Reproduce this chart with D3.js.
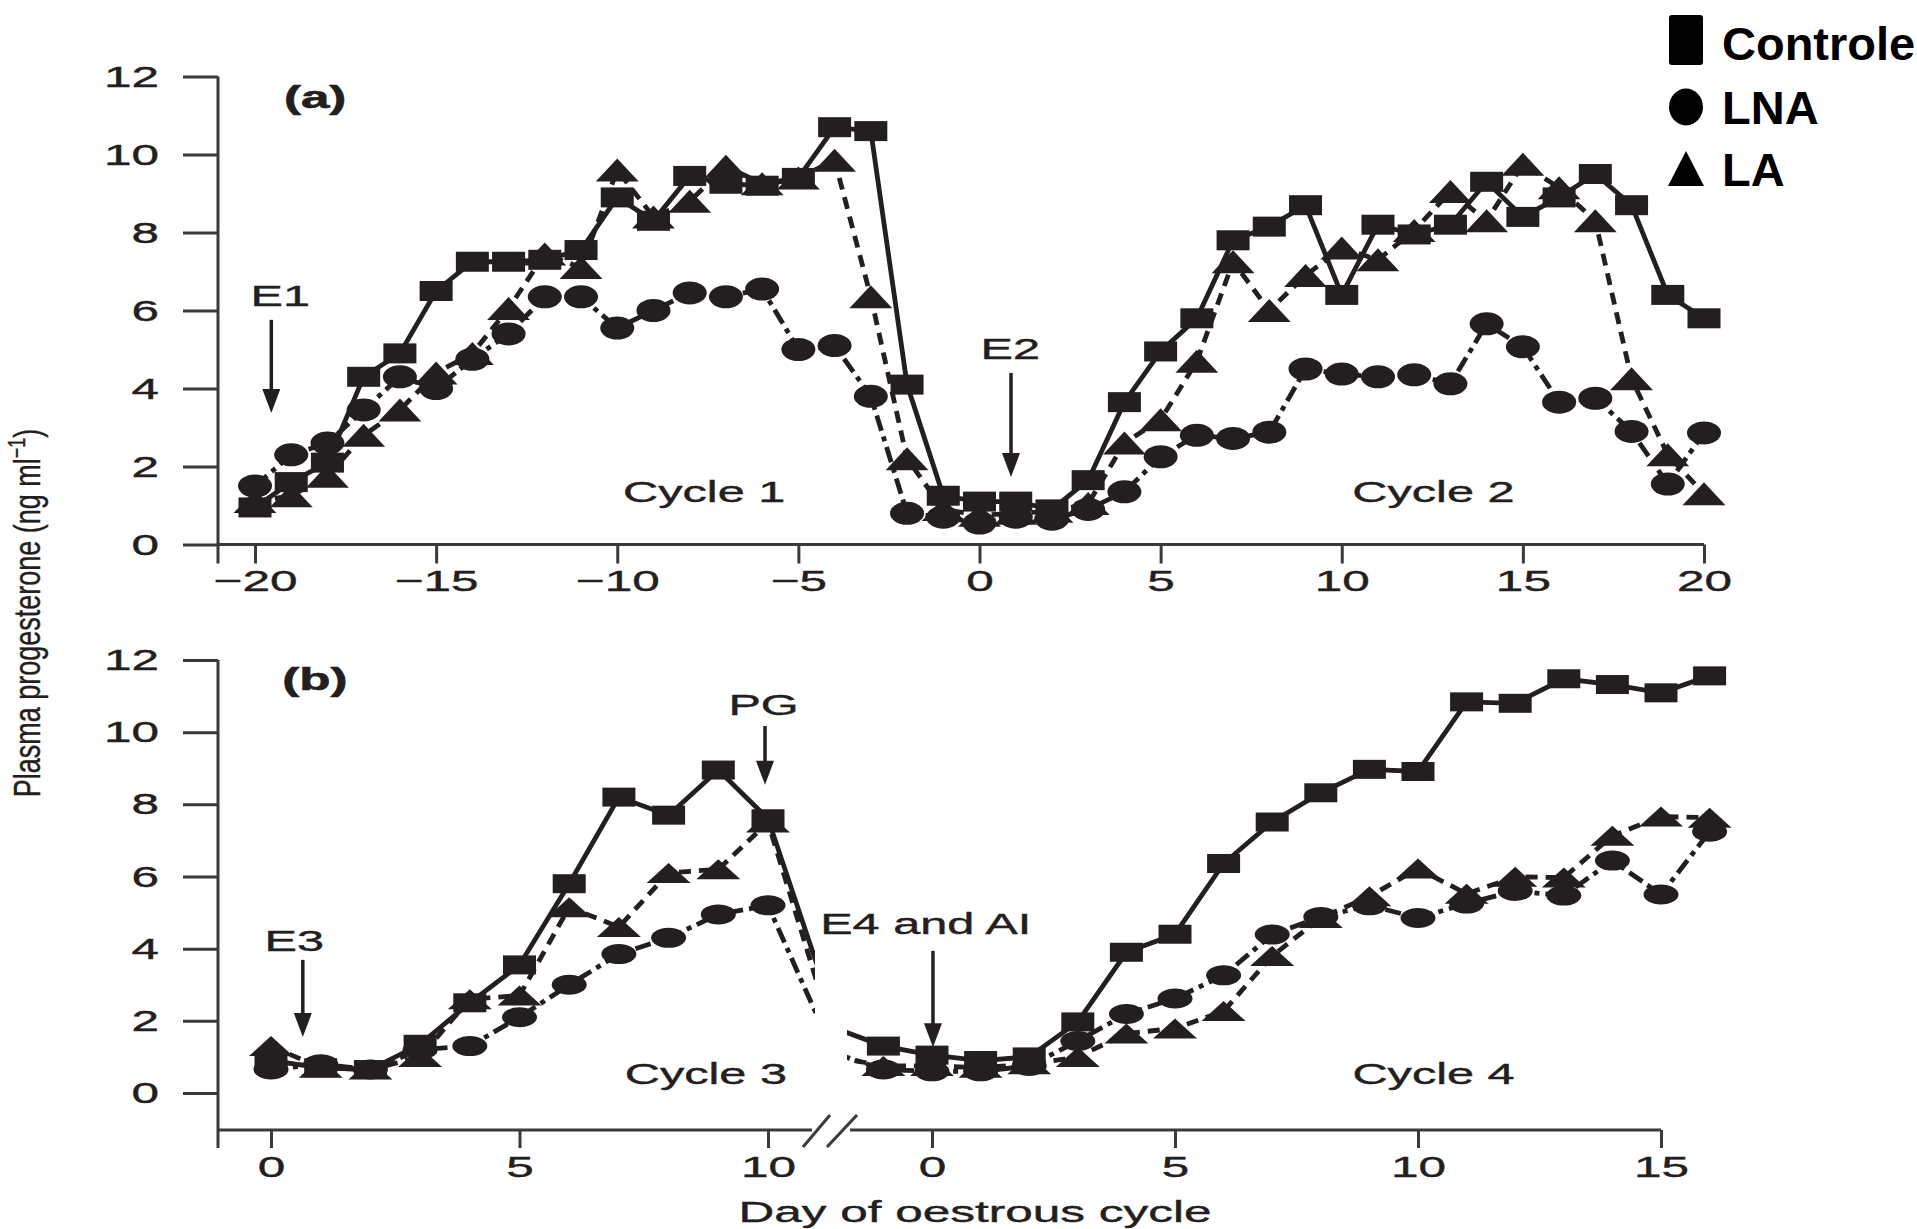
<!DOCTYPE html>
<html>
<head>
<meta charset="UTF-8">
<title>Plasma progesterone</title>
<script src="https://cdn.jsdelivr.net/npm/d3@7"></script>
<style>
  body { margin: 0; background: #fff; }
  text { font-family: "Liberation Sans", Arial, sans-serif; fill: #231f20; }
</style>
</head>
<body>
<script>
// ---- data ----
var seriesNames = ["Controle", "LNA", "LA"];

// panel (a): cycles 1 and 2, days -20..20
var daysA = [-20,-19,-18,-17,-16,-15,-14,-13,-12,-11,-10,-9,-8,-7,-6,-5,-4,-3,-2,-1,0,
             1,2,3,4,5,6,7,8,9,10,11,12,13,14,15,16,17,18,19,20];
var ctrlA = [0.95,1.6,2.1,4.3,4.9,6.5,7.25,7.25,7.3,7.55,8.9,8.3,9.45,9.25,9.2,9.4,10.7,10.6,4.1,1.25,1.1,
             1.1,0.9,1.65,3.65,4.95,5.8,7.8,8.15,8.7,6.4,8.2,7.95,8.2,9.3,8.4,8.9,9.5,8.7,6.4,5.8];
var lnaA  = [1.5,2.3,2.6,3.45,4.3,4.0,4.75,5.4,6.35,6.35,5.55,6.0,6.45,6.35,6.55,5.0,5.1,3.8,0.8,0.7,0.55,
             0.7,0.65,0.9,1.35,2.25,2.8,2.72,2.88,4.5,4.37,4.3,4.35,4.12,5.66,5.07,3.65,3.75,2.9,1.55,2.86];
var laA   = [1.1,1.25,1.75,2.8,3.45,4.4,4.9,6.05,7.45,7.1,9.6,8.4,8.8,9.7,9.25,9.4,9.85,6.35,2.2,0.9,0.75,
             0.8,0.85,1.05,2.6,3.2,4.7,7.25,6.0,6.9,7.6,7.3,8.05,9.05,8.3,9.75,9.15,8.3,4.25,2.3,1.3];

// panel (b), cycle 3: days 0..11 (day 11 runs into the axis break)
var days3 = [0,1,2,3,4,5,6,7,8,9,10,11];
var ctrl3 = [0.9,0.7,0.65,1.35,2.5,3.55,5.8,8.2,7.7,8.95,7.6,3.5];
var lna3  = [0.65,0.8,0.65,1.2,1.3,2.1,3.0,3.85,4.3,4.95,5.2,2.1];
var la3   = [1.3,0.7,0.65,1.0,2.6,2.7,5.15,4.6,6.1,6.2,7.5,3.0];

// panel (b), cycle 4: days -2..16 (day -2 hidden behind the break)
var days4 = [-2,-1,0,1,2,3,4,5,6,7,8,9,10,11,12,13,14,15,16];
var ctrl4 = [1.8,1.3,1.05,0.9,1.0,1.97,3.9,4.4,6.36,7.51,8.32,8.97,8.91,10.84,10.8,11.48,11.32,11.09,11.56];
var lna4  = [1.1,0.65,0.6,0.6,0.75,1.44,2.19,2.62,3.26,4.39,4.88,5.2,4.85,5.25,5.6,5.47,6.44,5.5,7.24];
var la4   = [1.0,0.75,0.75,0.7,0.8,1.0,1.65,1.79,2.27,3.8,4.85,5.45,6.22,5.52,5.99,5.97,7.13,7.66,7.63];

var yTicks = [0,2,4,6,8,10,12];
var xTicksA = [-20,-15,-10,-5,0,5,10,15,20];
var xTicks3 = [0,5,10];
var xTicks4 = [0,5,10,15];

// ---- setup ----
var W = 1917, H = 1229;
var SX = 1.65;      // the figure is stretched horizontally
var ink = "#231f20", axisInk = "#3a3a3a";

var svg = d3.select("body").append("svg")
  .attr("width", W).attr("height", H)
  .style("background", "#fff");

var xA = d3.scaleLinear().domain([-20, 20]).range([255, 1704]);
var yA = d3.scaleLinear().domain([0, 12]).range([544.5, 76.5]);
var x3 = d3.scaleLinear().domain([0, 10]).range([271, 768]);
var x4 = d3.scaleLinear().domain([0, 15]).range([932, 1661]);
var yB = d3.scaleLinear().domain([0, 12]).range([1093, 660]);

var lineStyle = {
  "Controle": null,
  "LNA": "16,6,5,6",
  "LA": "12,8"
};

var defs = svg.append("defs");
defs.append("clipPath").attr("id", "clip3")
  .append("rect").attr("x", 150).attr("y", 600).attr("width", 815 - 150).attr("height", 560);
defs.append("clipPath").attr("id", "clip4")
  .append("rect").attr("x", 847).attr("y", 600).attr("width", 1000).attr("height", 560);

function marker(g, type, cx, cy, w, h) {
  if (type == "Controle") {
    g.append("rect").attr("x", cx - w / 2).attr("y", cy - h / 2)
      .attr("width", w).attr("height", h).attr("fill", ink);
  } else if (type == "LNA") {
    g.append("ellipse").attr("cx", cx).attr("cy", cy)
      .attr("rx", w / 2).attr("ry", h / 2).attr("fill", ink);
  } else {
    g.append("path")
      .attr("d", "M" + cx + "," + (cy - h / 2) + "L" + (cx + w * 0.55) + "," + (cy + h / 2) +
                 "L" + (cx - w * 0.55) + "," + (cy + h / 2) + "Z")
      .attr("fill", ink);
  }
}

// draws the three series of one panel / cycle
function drawCycle(days, sets, x, y, sizes, clipId) {
  var g = svg.append("g");
  if (clipId) g.attr("clip-path", "url(#" + clipId + ")");
  var dom = x.domain();

  sets.forEach(function (vals, k) {
    var name = seriesNames[k];
    var pts = days.map(function (d, i) { return [d, vals[i]]; });
    var line = d3.line()
      .x(function (p) { return x(p[0]); })
      .y(function (p) { return y(p[1]); });
    g.append("path").datum(pts)
      .attr("d", line)
      .attr("fill", "none")
      .attr("stroke", ink)
      .attr("stroke-width", 4.8)
      .attr("stroke-dasharray", lineStyle[name]);
  });

  [2, 1, 0].forEach(function (k) {
    var name = seriesNames[k];
    var vals = sets[k];
    var s = sizes[name];
    days.forEach(function (d, i) {
      if (clipId == "clip3" && d > dom[1]) return;
      if (clipId == "clip4" && d < -1) return;
      marker(g, name, x(d), y(vals[i]), s[0], s[1]);
    });
  });
}

var sizesA = { "Controle": [33, 20], "LNA": [34, 23], "LA": [39, 23] };
var sizesB = { "Controle": [33, 19], "LNA": [35, 20], "LA": [40, 20] };

drawCycle(daysA, [ctrlA, lnaA, laA], xA, yA, sizesA, null);
drawCycle(days3, [ctrl3, lna3, la3], x3, yB, sizesB, "clip3");
drawCycle(days4, [ctrl4, lna4, la4], x4, yB, sizesB, "clip4");

// ---- axes ----
function styleAxis(sel, left) {
  sel.select(".domain").remove();
  sel.selectAll("line").attr("stroke", axisInk).attr("stroke-width", 3);
  var t = sel.selectAll("text")
    .attr("font-size", 30)
    .attr("font-family", "Liberation Sans, Arial, sans-serif")
    .attr("fill", ink)
    .attr("stroke", ink).attr("stroke-width", 0.4)
    .attr("transform", "scale(" + SX + ",1)");
  if (left) t.attr("x", -59 / SX);
}

function axisLine(x1, y1, x2, y2) {
  svg.append("line").attr("x1", x1).attr("y1", y1).attr("x2", x2).attr("y2", y2)
    .attr("stroke", axisInk).attr("stroke-width", 3);
}

// panel (a)
svg.append("g").attr("transform", "translate(218,0)")
  .call(d3.axisLeft(yA).tickValues(yTicks).tickSize(35).tickPadding(24))
  .call(styleAxis, true);
svg.append("g").attr("transform", "translate(0," + yA(0) + ")")
  .call(d3.axisBottom(xA).tickValues(xTicksA).tickSize(19).tickPadding(6))
  .call(styleAxis, false);
axisLine(218, yA(12), 218, yA(0) + 19);
axisLine(218, yA(0), xA(20), yA(0));

// panel (b)
var axB = 1130;
svg.append("g").attr("transform", "translate(218,0)")
  .call(d3.axisLeft(yB).tickValues(yTicks).tickSize(35).tickPadding(24))
  .call(styleAxis, true);
svg.append("g").attr("transform", "translate(0," + axB + ")")
  .call(d3.axisBottom(x3).tickValues(xTicks3).tickSize(18).tickPadding(8))
  .call(styleAxis, false);
svg.append("g").attr("transform", "translate(0," + axB + ")")
  .call(d3.axisBottom(x4).tickValues(xTicks4).tickSize(18).tickPadding(8))
  .call(styleAxis, false);
axisLine(218, yB(12), 218, axB + 18);
axisLine(218, axB, 812, axB);
axisLine(850, axB, x4(15), axB);
// axis break
axisLine(803, axB + 17, 830, axB - 15);
axisLine(827, axB + 17, 857, axB - 15);

// ---- annotations ----
function label(txt, x, y, size, bold) {
  svg.append("text")
    .attr("transform", "translate(" + x + "," + y + ") scale(" + SX + ",1)")
    .attr("text-anchor", "middle")
    .attr("font-size", size)
    .attr("font-weight", bold ? "bold" : null)
    .attr("stroke", ink).attr("stroke-width", bold ? 0.6 : 0.4)
    .text(txt);
}

function arrow(x, y1, y2) {
  svg.append("line").attr("x1", x).attr("y1", y1).attr("x2", x).attr("y2", y2 - 20)
    .attr("stroke", ink).attr("stroke-width", 3.5);
  svg.append("path")
    .attr("d", "M" + (x - 9) + "," + (y2 - 24) + "L" + (x + 9) + "," + (y2 - 24) + "L" + x + "," + y2 + "Z")
    .attr("fill", ink);
}

label("(a)", xA(-18.34), yA(11.19), 31, true);
label("E1", xA(-19.3), yA(6.12), 29.5);
arrow(xA(-19.55), yA(5.76), yA(3.37));
label("E2", xA(0.85), yA(4.76), 29.5);
arrow(xA(0.87), yA(4.4), yA(1.73));
label("Cycle 1", xA(-7.6), yA(1.09), 29.5);
label("Cycle 2", xA(12.53), yA(1.09), 29.5);

label("(b)", x3(0.885), yB(11.17), 31, true);
label("PG", x3(9.91), yB(10.48), 29.5);
arrow(x3(9.94), yB(10.17), yB(8.54));
label("E3", x3(0.47), yB(3.94), 29.5);
arrow(x3(0.64), yB(3.69), yB(1.55));
label("E4 and AI", x4(-0.13), yB(4.41), 29.5);
arrow(x4(0.02), yB(3.94), yB(1.27));
label("Cycle 3", x3(8.75), yB(0.25), 29.5);
label("Cycle 4", x4(10.32), yB(0.25), 29.5);

label("Day of oestrous cycle", 975, 1222, 30);

var yt = svg.append("text")
  .attr("transform", "translate(40,613) scale(1.35,1) rotate(-90)")
  .attr("text-anchor", "middle")
  .attr("font-size", 27)
  .attr("stroke", ink).attr("stroke-width", 0.3);
yt.append("tspan").text("Plasma progesterone (ng ml");
yt.append("tspan").attr("font-size", 18).attr("dy", -11).text("\u22121");
yt.append("tspan").attr("dy", 11).text(")");

// ---- legend ----
var leg = svg.append("g");
var legBase = [60, 124, 186];
leg.append("rect").attr("x", 1669).attr("y", 15).attr("width", 34).attr("height", 50)
  .attr("rx", 3).attr("fill", "#000");
leg.append("ellipse").attr("cx", 1686).attr("cy", 107).attr("rx", 17).attr("ry", 18.5)
  .attr("fill", "#000");
leg.append("path").attr("d", "M1686,151L1704,186L1668,186Z").attr("fill", "#000");
seriesNames.forEach(function (n, i) {
  leg.append("text")
    .attr("x", 1722).attr("y", legBase[i])
    .attr("font-size", 47).attr("font-weight", "bold")
    .style("fill", "#000")
    .text(n);
});
</script>
</body>
</html>
